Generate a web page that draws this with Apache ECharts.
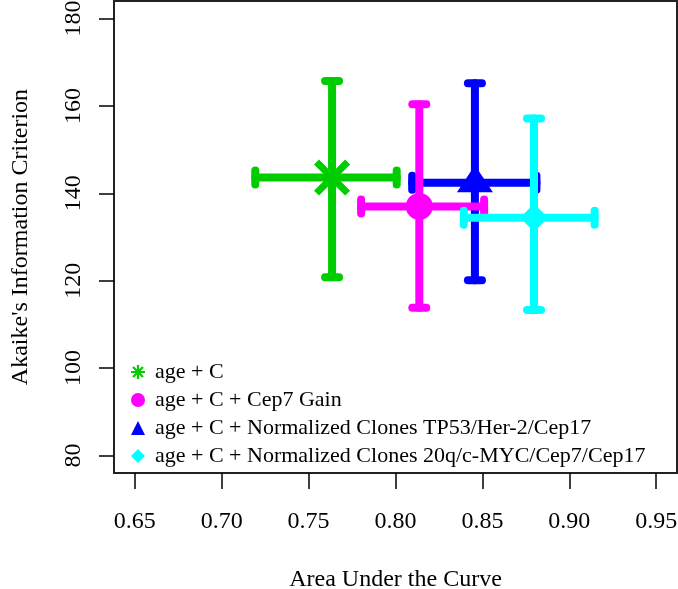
<!DOCTYPE html>
<html>
<head>
<meta charset="utf-8">
<script src="https://cdn.jsdelivr.net/npm/echarts@6/dist/echarts.min.js"></script>
<style>
html,body{margin:0;padding:0;background:#fff;}
#chart{width:678px;height:589px;}
</style>
</head>
<body>
<div id="chart"></div>
<script>
// ---- Data ----
const modelNames = [
  'age + C',
  'age + C + Cep7 Gain',
  'age + C + Normalized Clones TP53/Her-2/Cep17',
  'age + C + Normalized Clones 20q/c-MYC/Cep7/Cep17'
];
const aucMid  = [0.7635, 0.8137, 0.8457, 0.8797];
const aucLow  = [0.7193, 0.7802, 0.8096, 0.8393];
const aucHigh = [0.8007, 0.8510, 0.8811, 0.9146];
const aicMid  = [143.6, 137.0, 142.4, 134.4];
const aicLow  = [120.8, 113.8, 120.1, 113.3];
const aicHigh = [165.7, 160.4, 165.2, 157.1];
const xTicks = [0.65, 0.70, 0.75, 0.80, 0.85, 0.90, 0.95];
const yTicks = [80, 100, 120, 140, 160, 180];

// ---- Styles ----
const colors = ['#00CD00', '#FF00FF', '#0000FF', '#00FFFF'];
const FONT = 'Liberation Serif, Times New Roman, serif';

function asteriskPath(t) {
  let d = '';
  [0, 45, 90, 135].forEach(function (deg) {
    const a = deg * Math.PI / 180, c = Math.cos(a), s = Math.sin(a);
    const pts = [[-1, -t], [1, -t], [1, t], [-1, t]].map(function (p) {
      return [(p[0] * c - p[1] * s).toFixed(4), (p[0] * s + p[1] * c).toFixed(4)];
    });
    d += 'M' + pts[0].join(',') + 'L' + pts[1].join(',') + 'L' + pts[2].join(',') + 'L' + pts[3].join(',') + 'Z';
  });
  return 'path://' + d;
}
const symbols = [asteriskPath(0.16), 'circle', 'triangle', 'diamond'];
const symbolSizes = [44, 27, [36, 27], 28];
const symbolOffsets = [[0, 0], [0, 0], [0, -4], [0, 0]];

function barRenderer(color) {
  return function (params, api) {
    const xm = api.value(0), ym = api.value(1);
    const xl = api.value(2), xh = api.value(3), yl = api.value(4), yh = api.value(5);
    const pL = api.coord([xl, ym]), pR = api.coord([xh, ym]);
    const pB = api.coord([xm, yl]), pT = api.coord([xm, yh]);
    const cap = 7;
    function st() { return { stroke: color, lineWidth: 8, lineCap: 'round', fill: null }; }
    function ln(x1, y1, x2, y2) { return { type: 'line', shape: { x1: x1, y1: y1, x2: x2, y2: y2 }, style: st() }; }
    return {
      type: 'group',
      children: [
        ln(pL[0], pL[1], pR[0], pR[1]),
        ln(pB[0], pB[1], pT[0], pT[1]),
        ln(pL[0], pL[1] - cap, pL[0], pL[1] + cap),
        ln(pR[0], pR[1] - cap, pR[0], pR[1] + cap),
        ln(pB[0] - cap, pB[1], pB[0] + cap, pB[1]),
        ln(pT[0] - cap, pT[1], pT[0] + cap, pT[1])
      ]
    };
  };
}

// drawing order: blue, green, magenta, cyan
const drawOrder = [2, 0, 1, 3];
const series = [];
drawOrder.forEach(function (i) {
  series.push({
    type: 'custom',
    name: 'bars' + i,
    renderItem: barRenderer(colors[i]),
    data: [[aucMid[i], aicMid[i], aucLow[i], aucHigh[i], aicLow[i], aicHigh[i]]],
    silent: true,
    animation: false
  });
  series.push({
    type: 'scatter',
    name: modelNames[i],
    data: [[aucMid[i], aicMid[i]]],
    symbol: symbols[i],
    symbolSize: symbolSizes[i],
    symbolOffset: symbolOffsets[i],
    itemStyle: { color: colors[i], opacity: 1 },
    animation: false
  });
});

const chart = echarts.init(document.getElementById('chart'), null, { renderer: 'canvas' });
chart.setOption({
  backgroundColor: '#fff',
  animation: false,
  grid: {
    left: 114, right: 1, top: 1, bottom: 116,
    containLabel: false, outerBoundsMode: 'none',
    show: true, borderColor: '#222', borderWidth: 2, backgroundColor: 'transparent'
  },
  xAxis: {
    type: 'value', min: 0.638, max: 0.962,
    splitLine: { show: false },
    axisLine: { show: false },
    axisTick: { show: true, customValues: xTicks, length: 16, inside: false, lineStyle: { color: '#000', width: 1.5 } },
    axisLabel: {
      customValues: xTicks, margin: 37, color: '#000', fontFamily: FONT, fontSize: 24,
      formatter: function (v) { return v.toFixed(2); }
    },
    name: 'Area Under the Curve', nameLocation: 'middle', nameGap: 95,
    nameTextStyle: { color: '#000', fontFamily: FONT, fontSize: 24 }
  },
  yAxis: {
    type: 'value', min: 76, max: 184,
    splitLine: { show: false },
    axisLine: { show: false },
    axisTick: { show: true, customValues: yTicks, length: 15, inside: false, lineStyle: { color: '#000', width: 1.5 } },
    axisLabel: {
      customValues: yTicks, margin: 28, rotate: 90, color: '#000', fontFamily: FONT, fontSize: 24
    },
    name: "Akaike's Information Criterion", nameLocation: 'middle', nameGap: 81, nameRotate: 90,
    nameTextStyle: { color: '#000', fontFamily: FONT, fontSize: 24 }
  },
  legend: {
    orient: 'vertical', left: 126, top: 356,
    data: modelNames,
    itemWidth: 14, itemHeight: 14, itemGap: 6,
    selectedMode: false,
    textStyle: { color: '#000', fontFamily: FONT, fontSize: 22, padding: [0, 0, 0, 5] }
  },
  series: series
});
</script>
</body>
</html>
